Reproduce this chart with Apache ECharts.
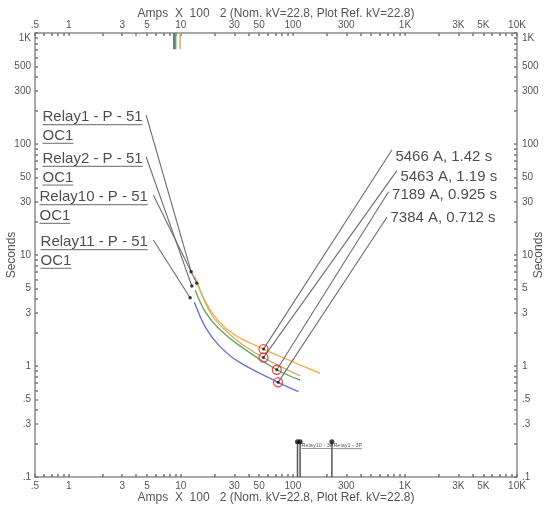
<!DOCTYPE html>
<html><head><meta charset="utf-8">
<script src="https://cdn.jsdelivr.net/npm/echarts@6/dist/echarts.min.js"></script>
<style>html,body{margin:0;padding:0;background:#fff}#c{width:550px;height:511px}</style>
</head><body><div id="c"></div>
<script>
// ---------- data ----------
const axisTitle = 'Amps  X  100   2 (Nom. kV=22.8, Plot Ref. kV=22.8)';
const yTitle = 'Seconds';
const xTickLabels = [0.5, 1, 3, 5, 10, 30, 50, 100, 300, 1000, 3000, 5000, 10000];
const yTickLabels = [0.1, 0.3, 0.5, 1, 3, 5, 10, 30, 50, 100, 300, 500, 1000];
const relayNames = ['Relay1 - P - 51', 'Relay2 - P - 51', 'Relay10 - P - 51', 'Relay11 - P - 51'];
const relayElements = ['OC1', 'OC1', 'OC1', 'OC1'];
// time-current curves [Amps x 100, seconds]
const relay1Curve  = [[13.4, 6.4], [16.5, 3.85], [21.7, 2.55], [30.5, 1.9], [54.66, 1.42], [90, 1.14], [175, 0.86]];
const relay2Curve  = [[13.42, 4.84], [16.48, 3.09], [21.66, 2.19], [32.7, 1.55], [71.89, 0.925], [116, 0.748]];
const relay10Curve = [[14.18, 5.37], [18.9, 2.88], [25, 2.10], [35, 1.58], [54.63, 1.19], [116, 0.813]];
const relay11Curve = [[13.22, 3.75], [16.48, 2.26], [21.66, 1.55], [32.7, 1.093], [73.84, 0.712], [112, 0.587]];
// short pickup segments at top of plot
const pickupAmps = [8.7, 9.0, 9.85];
const pickupTimes = [1000, 713];
// fault operating points
const faultPoints = [[54.66, 1.42], [54.63, 1.19], [71.89, 0.925], [73.84, 0.712]];
const faultLabels = ['5466 A, 1.42 s', '5463 A, 1.19 s', '7189 A, 0.925 s', '7384 A, 0.712 s'];
// instantaneous (3P) elements
const instAmps = [110, 116, 223];
const instTimes = [0.1, 0.208];
const instLabels = ['Relay10 - 3P', 'Relay1 - 3P'];

// ---------- layout (callout anchors, in axis units) ----------
const relayLeaderTop = [[4.90, 182.5], [4.90, 76.8], [5.69, 34.7], [5.69, 13.65]];
const relayLeaderEnd = [[12.36, 7.07], [12.54, 5.26], [13.89, 5.56], [12.1, 4.12]];
const relayLabelDist = [3, 3, 5, 5];
const faultLeaderTop = [[765, 88.3], [848, 57.5], [714, 37.2], [691, 21.9]];
const faultLabelDy = [6.7, 6, 3.3, 0.4];
const instLabelAt = [[116, 0.208], [223, 0.208]];

// ---------- styles ----------
const FONT = "'Liberation Sans', Arial, sans-serif";
const colors = { r1: '#F4B04F', r2: '#66AA58', r10: '#CFAE77', r11: '#7070CE' };
const leaderColor = '#6e6e6e';
const mctx = document.createElement('canvas').getContext('2d');
function textW(s, size) { mctx.font = size + 'px ' + FONT; return mctx.measureText(s).width; }

function minorTicks(lo, hi) {
  const out = [];
  for (let d = 0.1; d < hi; d *= 10) {
    for (let k = 1; k <= 9; k++) {
      const v = +(k * d).toPrecision(6);
      if (v >= lo && v <= hi) out.push(v);
    }
  }
  out.push(hi);
  return out;
}
function fmt(v) {
  const r = +(+v).toPrecision(6);
  if (r >= 1000) return (r / 1000) + 'K';
  if (r < 1) return String(r).replace(/^0/, '');
  return String(r);
}

const axisLineStyle = { color: '#8a8a8a', width: 1.5 };
const tickStyle = { color: '#777', width: 1.5 };
const labelBase = { fontSize: 10, color: '#555', fontFamily: FONT };
const nameStyle = { fontSize: 12, color: '#555', fontFamily: FONT };

function xAx(pos, gap, margin) {
  return {
    type: 'log', logBase: 10, min: 0.5, max: 10000, position: pos,
    name: axisTitle, nameLocation: 'middle', nameGap: gap, nameTextStyle: nameStyle, nameMoveOverlap: false,
    axisLine: { show: true, onZero: false, lineStyle: axisLineStyle },
    axisTick: { show: true, inside: true, length: 3, customValues: minorTicks(0.5, 10000), lineStyle: tickStyle },
    axisLabel: Object.assign({ show: true, margin: margin, customValues: xTickLabels, formatter: fmt }, labelBase),
    splitLine: { show: false }, minorTick: { show: false }, minorSplitLine: { show: false }
  };
}
function yAx(pos, gap, margin) {
  return {
    type: 'log', logBase: 10, min: 0.1, max: 1000, position: pos,
    name: yTitle, nameLocation: 'middle', nameGap: gap, nameTextStyle: nameStyle, nameMoveOverlap: false,
    axisLine: { show: true, onZero: false, lineStyle: axisLineStyle },
    axisTick: { show: true, inside: true, length: 3, customValues: minorTicks(0.1, 1000), lineStyle: tickStyle },
    axisLabel: Object.assign({
      show: true, margin: margin, customValues: yTickLabels,
      formatter: v => (Math.abs(v - 1000) < 1e-6 ? '{k|1K}' : fmt(v)),
      rich: { k: { padding: [10, 0, 0, 0], fontSize: 10, color: '#555', fontFamily: FONT } }
    }, labelBase),
    splitLine: { show: false }, minorTick: { show: false }, minorSplitLine: { show: false }
  };
}

const series = [];
function curve(data, color) {
  series.push({ type: 'line', data: data, smooth: 0.35, symbol: 'none',
    lineStyle: { color: color, width: 1.4 }, z: 3, silent: true });
}
curve(relay1Curve, colors.r1);
curve(relay10Curve, colors.r10);
curve(relay2Curve, colors.r2);
curve(relay11Curve, colors.r11);
// top pickup segments
const pickupColors = ['#3c4a66', colors.r2, colors.r10];
pickupAmps.forEach((a, i) => {
  series.push({ type: 'line', data: pickupTimes.map(t => [a, t]), symbol: 'none',
    lineStyle: { color: pickupColors[i], width: 1.5 }, z: 3, silent: true });
});
// instantaneous vertical lines
instAmps.forEach(a => {
  series.push({ type: 'line', data: instTimes.map(t => [a, t]), symbol: 'none',
    lineStyle: { color: '#555', width: 1.5 }, z: 3, silent: true });
});
series.push({ type: 'scatter', data: instAmps.map(a => [a, instTimes[1]]), symbol: 'circle', symbolSize: 5,
  itemStyle: { color: '#111' }, z: 6, silent: true });
series.push({ type: 'scatter', symbolSize: 1, itemStyle: { color: 'rgba(0,0,0,0)' }, z: 7, silent: true,
  data: instLabels.map((n, i) => ({ value: instLabelAt[i], name: n })),
  label: { show: true, position: 'right', distance: 1, offset: [0, 4],
    formatter: p => '{t|' + p.name + '}\n{u| }',
    rich: { t: { fontSize: 5.5, lineHeight: 6, color: '#333', fontFamily: FONT, align: 'left' },
            u: { width: '100%', height: 0.8, lineHeight: 0.8, fontSize: 1, backgroundColor: '#555', align: 'left' } } } });

// relay leaders
relayLeaderTop.forEach((p, i) => {
  series.push({ type: 'line', data: [p, relayLeaderEnd[i]], symbol: 'none',
    lineStyle: { color: leaderColor, width: 1.1 }, z: 4, silent: true });
});
series.push({ type: 'scatter', data: relayLeaderEnd, symbolSize: 3.5, itemStyle: { color: '#111' }, z: 6, silent: true });
// relay labels
series.push({ type: 'scatter', symbolSize: 1, itemStyle: { color: 'rgba(0,0,0,0)' }, z: 7, silent: true,
  data: relayNames.map((n, i) => ({ value: relayLeaderTop[i], name: n, el: relayElements[i], label: { distance: relayLabelDist[i] } })),
  label: { show: true, position: 'left', offset: [0, 12],
    formatter: p => '{t|' + p.name + '}\n{u| }\n{s| }\n{t|' + p.data.el + '}\n{v| }',
    rich: {
      t: { fontSize: 15, lineHeight: 14, color: '#222', fontFamily: FONT, align: 'left' },
      u: { width: '100%', height: 1.2, lineHeight: 1.2, fontSize: 1, backgroundColor: '#666', align: 'left' },
      s: { fontSize: 1, lineHeight: 3.5, height: 3.5, align: 'left' },
      v: { width: textW('OC1', 15), height: 1.2, lineHeight: 1.2, fontSize: 1, backgroundColor: '#666', align: 'left' }
    } } });

// fault leaders
faultLeaderTop.forEach((p, i) => {
  series.push({ type: 'line', data: [faultPoints[i], p], symbol: 'none',
    lineStyle: { color: leaderColor, width: 1.1 }, z: 4, silent: true });
});
series.push({ type: 'scatter', data: faultPoints, symbol: 'circle', symbolSize: 9,
  itemStyle: { color: 'rgba(0,0,0,0)', borderColor: '#E8202A', borderWidth: 1.3 }, z: 8, silent: true });
series.push({ type: 'scatter', data: faultPoints, symbolSize: 3, itemStyle: { color: '#111' }, z: 9, silent: true });
series.push({ type: 'scatter', symbolSize: 1, itemStyle: { color: 'rgba(0,0,0,0)' }, z: 7, silent: true,
  data: faultLabels.map((n, i) => ({ value: faultLeaderTop[i], name: n, label: { offset: [0, faultLabelDy[i]] } })),
  label: { show: true, position: 'right', distance: 3, formatter: p => p.name,
    fontSize: 15, color: '#222', fontFamily: FONT } });

const chart = echarts.init(document.getElementById('c'), null, { renderer: 'canvas' });
chart.setOption({
  backgroundColor: '#fff',
  animation: false,
  grid: { left: 35, right: 33, top: 33, bottom: 34, containLabel: false, outerBoundsMode: 'none' },
  xAxis: [xAx('bottom', 15, 4), xAx('top', 13, 2.5)],
  yAxis: [yAx('left', 17, 4), yAx('right', 16, 5)],
  series: series
});
</script>
</body></html>
